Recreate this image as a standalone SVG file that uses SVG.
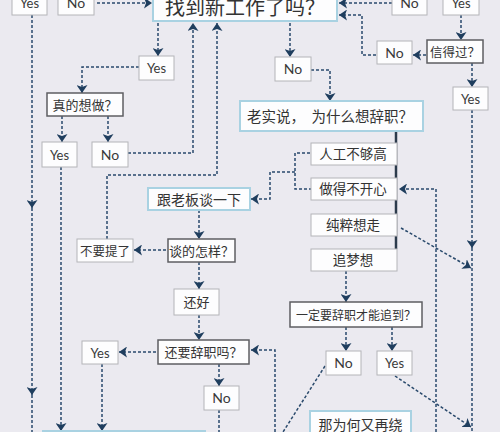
<svg xmlns="http://www.w3.org/2000/svg" width="500" height="432" viewBox="0 0 500 432">
<defs>
<style>
.bg{fill:#ebeaf0}
.b{fill:#fdfdfe;stroke:#b4b4b8;stroke-width:1}
.q{fill:#fdfdfe;stroke:#5e5e62;stroke-width:1.5}
.h{fill:#fdfdfe;stroke:#a9d2e2;stroke-width:2}
.e{font-family:Lato,"Open Sans","Liberation Sans",sans-serif;fill:#3a3a3a;text-anchor:middle}
.c{font-family:"Noto Sans CJK SC","Noto Sans",sans-serif;fill:#333;text-anchor:middle}
.d{fill:none;stroke:#2a4a6c;stroke-width:1.5;stroke-dasharray:3 2}
.bar{stroke:#2c3b4c;stroke-width:2.5}
</style>
<marker id="ah" viewBox="0 0 8 11" refX="8" refY="5.5" markerWidth="8" markerHeight="11" markerUnits="userSpaceOnUse" orient="auto">
<path d="M0,0 L8,5.5 L0,11 L2,5.5 z" fill="#1f3e5e"/>
</marker>
</defs>
<rect class="bg" x="0" y="0" width="500" height="432"/>

<g id="connectors">
<line class="bar" x1="396" y1="131" x2="396" y2="249"/>
<path class="d" d="M97,3 H152" marker-end="url(#ah)"/>
<path class="d" d="M392,3 H339" marker-end="url(#ah)"/>
<path class="d" d="M376,55 H362 V15 H339" marker-end="url(#ah)"/>
<path class="d" d="M426,55 H413" marker-end="url(#ah)"/>
<path class="d" d="M461,15 V40" marker-end="url(#ah)"/>
<path class="d" d="M472,63 V87" marker-end="url(#ah)"/>
<path class="d" d="M472,110 V248" marker-end="url(#ah)"/>
<path class="d" d="M472,248 V432"/>
<path class="d" d="M158,23 V56" marker-end="url(#ah)"/>
<path class="d" d="M139,67 H82 V93" marker-end="url(#ah)"/>
<path class="d" d="M290,23 V57" marker-end="url(#ah)"/>
<path class="d" d="M311,70 H330 V101" marker-end="url(#ah)"/>
<path class="d" d="M32,15 V208" marker-end="url(#ah)"/>
<path class="d" d="M32,208 V395" marker-end="url(#ah)"/>
<path class="d" d="M32,395 V432"/>
<path class="d" d="M62,116 V142" marker-end="url(#ah)"/>
<path class="d" d="M108,116 V142" marker-end="url(#ah)"/>
<path class="d" d="M128,153 H193 V23" marker-end="url(#ah)"/>
<path class="d" d="M107,239 V175 H217 V23" marker-end="url(#ah)"/>
<path class="d" d="M61,167 V431" marker-end="url(#ah)"/>
<path class="d" d="M310,153 H295 V189 H311"/>
<path class="d" d="M295,172 H270 V199 H251" marker-end="url(#ah)"/>
<path class="d" d="M199,210 V239" marker-end="url(#ah)"/>
<path class="d" d="M166,250 H134" marker-end="url(#ah)"/>
<path class="d" d="M199,262 V289" marker-end="url(#ah)"/>
<path class="d" d="M199,315 V340" marker-end="url(#ah)"/>
<path class="d" d="M156,352 H119" marker-end="url(#ah)"/>
<path class="d" d="M102,364 V431" marker-end="url(#ah)"/>
<path class="d" d="M219,364 V386" marker-end="url(#ah)"/>
<path class="d" d="M219,410 V432"/>
<path class="d" d="M436,432 V189 H399" marker-end="url(#ah)"/>
<path class="d" d="M401,228 L471,268" marker-end="url(#ah)"/>
<path class="d" d="M346,271 V302" marker-end="url(#ah)"/>
<path class="d" d="M346,327 V351" marker-end="url(#ah)"/>
<path class="d" d="M392,327 V351" marker-end="url(#ah)"/>
<path class="d" d="M325,366 L283,432"/>
<path class="d" d="M395,376 L471,427" marker-end="url(#ah)"/>
<path class="d" d="M275,432 V350 H251" marker-end="url(#ah)"/>
</g>

<g id="n-yes-tl"><rect class="b" x="12" y="-10" width="35" height="25"/><text class="e" x="29.5" y="8" font-size="13">Yes</text></g>
<g id="n-no-tl"><rect class="b" x="58" y="-10" width="36" height="25"/><text class="e" x="76" y="8" font-size="14">No</text></g>
<g id="n-main"><rect class="h" x="153" y="-10" width="184" height="31"/><text class="c" x="245" y="15" font-size="20">找到新工作了吗？</text></g>
<g id="n-no-tr"><rect class="b" x="392" y="-10" width="35" height="25"/><text class="e" x="409.5" y="8" font-size="14">No</text></g>
<g id="n-yes-tr"><rect class="b" x="443" y="-10" width="36" height="25"/><text class="e" x="461" y="8" font-size="13">Yes</text></g>
<g id="n-yes1"><rect class="b" x="139" y="56" width="35" height="24"/><text class="e" x="156.5" y="73" font-size="13">Yes</text></g>
<g id="n-no1"><rect class="b" x="275" y="57" width="36" height="24"/><text class="e" x="293" y="74" font-size="14">No</text></g>
<g id="n-no2"><rect class="b" x="377" y="41" width="35" height="23"/><text class="e" x="394.5" y="58" font-size="14">No</text></g>
<g id="n-trust"><rect class="q" x="427" y="40" width="56" height="23"/><text class="c" x="455" y="56.5" font-size="12.5">信得过？</text></g>
<g id="n-yes2"><rect class="b" x="453" y="87" width="35" height="23"/><text class="e" x="470.5" y="104" font-size="13">Yes</text></g>
<g id="n-really"><rect class="q" x="47" y="93" width="76" height="23"/><text class="c" x="85" y="109.5" font-size="13">真的想做？</text></g>
<g id="n-yes3"><rect class="b" x="42" y="142" width="35" height="25"/><text class="e" x="59.5" y="159.5" font-size="13">Yes</text></g>
<g id="n-no3"><rect class="b" x="92" y="142" width="36" height="25"/><text class="e" x="110" y="159.5" font-size="14">No</text></g>
<g id="n-honest"><rect class="h" x="240" y="101" width="183" height="30"/><text class="c" x="330" y="121.5" font-size="14.5" xml:space="preserve">老实说，  为什么想辞职？</text></g>
<g id="n-pay"><rect class="b" x="311" y="143" width="86" height="22"/><text class="c" x="353" y="159" font-size="13.5">人工不够高</text></g>
<g id="n-unhappy"><rect class="b" x="311" y="178" width="86" height="22"/><text class="c" x="353" y="194" font-size="13.5">做得不开心</text></g>
<g id="n-leave"><rect class="b" x="311" y="214" width="86" height="22"/><text class="c" x="353" y="230" font-size="13.5">纯粹想走</text></g>
<g id="n-dream"><rect class="b" x="311" y="249" width="86" height="22"/><text class="c" x="353" y="265" font-size="13.5">追梦想</text></g>
<g id="n-boss"><rect class="h" x="148" y="188" width="102" height="22"/><text class="c" x="199" y="204.5" font-size="14">跟老板谈一下</text></g>
<g id="n-how"><rect class="q" x="168" y="239" width="67" height="23"/><text class="c" x="201.5" y="255.5" font-size="13">谈的怎样？</text></g>
<g id="n-forget"><rect class="b" x="77" y="239" width="56" height="23"/><text class="c" x="105" y="255.5" font-size="12.5">不要提了</text></g>
<g id="n-ok"><rect class="b" x="174" y="289" width="45" height="26"/><text class="c" x="196.5" y="307" font-size="13">还好</text></g>
<g id="n-still"><rect class="q" x="158" y="340" width="91" height="24"/><text class="c" x="203.5" y="357" font-size="13">还要辞职吗？</text></g>
<g id="n-yes4"><rect class="b" x="82" y="341" width="36" height="23"/><text class="e" x="100" y="357.5" font-size="13">Yes</text></g>
<g id="n-no4"><rect class="b" x="204" y="386" width="35" height="24"/><text class="e" x="221.5" y="403" font-size="14">No</text></g>
<g id="n-must"><rect class="q" x="290" y="302" width="132" height="25"/><text class="c" x="356" y="319.5" font-size="12">一定要辞职才能追到？</text></g>
<g id="n-no5"><rect class="b" x="326" y="351" width="35" height="24"/><text class="e" x="343.5" y="368" font-size="14">No</text></g>
<g id="n-yes5"><rect class="b" x="377" y="351" width="35" height="24"/><text class="e" x="394.5" y="368" font-size="13">Yes</text></g>
<g id="n-why"><rect class="h" x="310" y="411" width="101" height="34"/><text class="c" x="360.5" y="430" font-size="14">那为何又再绕</text></g>
<g id="n-bottom"><rect class="h" x="43" y="431" width="162" height="20"/></g>
</svg>
